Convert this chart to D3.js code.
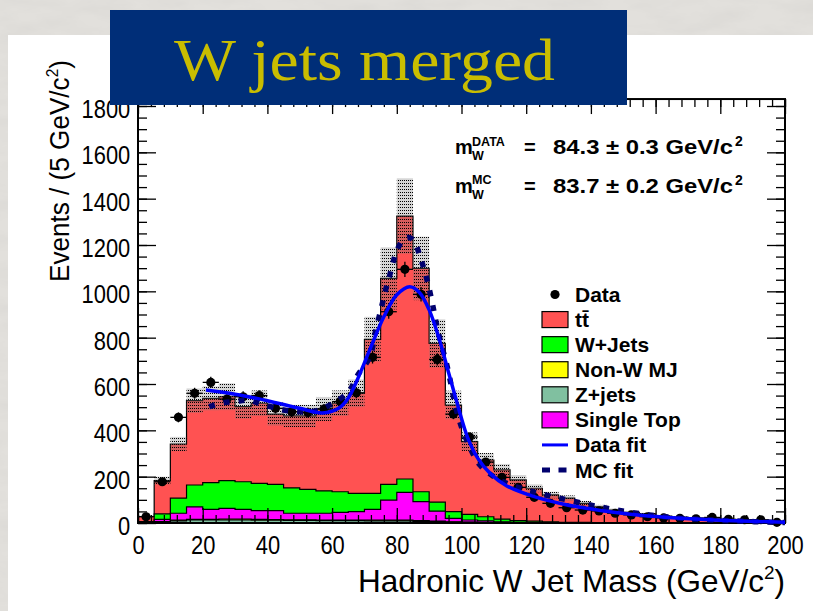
<!DOCTYPE html>
<html>
<head>
<meta charset="utf-8">
<script src="https://cdn.jsdelivr.net/npm/d3@7"></script>
<style>
  body { margin: 0; padding: 0; background: #dcdad6; }
  svg { display: block; }
</style>
</head>
<body>
<svg id="main" width="813" height="611"></svg>
<script>
// bins: 5 GeV wide, 0 - 200
const binEdges = d3.range(0, 205, 5)

// cumulative stack tops (Events / 5 GeV)
const zjetsTop  = [1,4,9,13,13,13,13,12,12,11,11,10,10,10,9,9,9,7,6,4,3,2,1,1,1,0,0,0,0,0,0,0,0,0,0,0,0,0,0,0]
const nonwTop   = [2,6,12,16,16,17,17,16,15,14,14,13,13,13,12,12,12,10,8,5,4,3,2,1,1,1,0,0,0,0,0,0,0,0,0,0,0,0,0,0]
const stopTop   = [4,16,42,70,59,63,59,53,53,42,42,42,46,49,59,99,132,92,51,20,13,9,5,3,2,2,1,1,1,1,1,0,0,0,0,0,0,0,0,0]
const wjetsTop  = [6,39,107,164,174,183,178,171,167,152,145,139,135,128,128,167,190,135,90,49,37,27,17,10,8,5,3,3,2,2,2,1,1,1,1,1,0,0,0,0]
const ttbarTop  = [28,183,341,528,538,545,502,517,470,462,462,492,517,560,793,1056,1325,1099,775,509,351,272,229,186,150,121,107,85,70,56,46,39,30,25,22,18,15,12,10,8]
const mcErr     = [3,17,31,53,52,58,52,55,50,48,48,52,55,60,97,134,163,137,104,62,40,30,26,21,17,14,12,10,8,7,6,5,4,3,3,2,2,2,1,1]

const dataCounts = [27,178,456,560,607,535,545,550,495,480,477,492,524,562,715,912,1095,987,706,470,371,263,197,154,111,85,66,56,52,42,35,27,22,20,18,24,16,14,14,3]

// fit curves: [mass, events]
const dataFit = [[21,574],[30,556],[40,528],[50,495],[57,475],[62,495],[65,540],[68,625],[72,760],[76,890],[80,985],[84,1020],[87,995],[90,920],[93,800],[96,650],[99,500],[102,365],[105,280],[109,212],[114,160],[122,116],[132,80],[143,54],[153,37],[163,25],[174,16],[184,10],[200,3]]
const mcFit = [[22,502],[26,518],[30,524],[34,530],[39,510],[45,488],[50,480],[55,484],[60,515],[65,565],[68,640],[71.7,718],[73.3,820],[75.3,933],[76.4,998],[77.7,1063],[78.7,1118],[80,1175],[82.2,1226],[84,1232],[85.6,1210],[87.2,1149],[88.5,1092],[89.6,1035],[90.6,974],[91.5,912],[92.3,855],[93.4,790],[95.5,680],[99,459],[102,345],[105.7,250],[110,200],[114,171],[122,135],[130.4,107],[139.7,78],[148,56],[158,35],[168.5,20],[184,9],[200,2]]

const legendNames = ["Data", "tt\u0304", "W+Jets", "Non-W MJ", "Z+jets", "Single Top", "Data fit", "MC fit"]
const colors = { ttbar: "#ff5252", wjets: "#00ff00", nonw: "#ffff00", zjets: "#80c0a0", stop: "#ff00ff", dataFit: "#0000ff", mcFit: "#00006e" }

const svg = d3.select("#main")
const W = 813, H = 611

// background
const defs = svg.append("defs")
const f = defs.append("filter").attr("id", "marble").attr("x", 0).attr("y", 0).attr("width", 1).attr("height", 1)
f.append("feTurbulence").attr("type", "fractalNoise").attr("baseFrequency", "0.02 0.06").attr("numOctaves", 4).attr("seed", 7)
f.append("feColorMatrix").attr("type", "matrix")
  .attr("values", "0 0 0 0 0.6  0 0 0 0 0.59  0 0 0 0 0.57  0.5 0 0 0 -0.18")
svg.append("rect").attr("width", W).attr("height", H).attr("fill", "#e2e0dc")
svg.append("rect").attr("width", W).attr("height", H).attr("filter", "url(#marble)")

// white card
svg.append("rect").attr("x", 8).attr("y", 35).attr("width", W - 8).attr("height", H - 35).attr("fill", "#ffffff")

// uncertainty pattern
const pat = defs.append("pattern").attr("id", "errpat").attr("patternUnits", "userSpaceOnUse")
  .attr("width", 2).attr("height", 3)
pat.append("rect").attr("width", 2).attr("height", 3).attr("fill", "rgba(120,120,120,0.3)")
pat.append("rect").attr("width", 1).attr("height", 1).attr("fill", "#000")

const x = d3.scaleLinear().domain([0, 200]).range([138, 785])
const y = d3.scaleLinear().domain([0, 1800]).range([523, 106])
const yTop = 1830

const g = svg.append("g")

// stacked histograms, drawn biggest first
function stepPoints(vals) {
  const pts = [[binEdges[0], 0]]
  vals.forEach((v, i) => { pts.push([binEdges[i], v]); pts.push([binEdges[i + 1], v]) })
  pts.push([binEdges[vals.length], 0])
  return pts
}
const stepLine = d3.line().x(d => x(d[0])).y(d => y(d[1]))

const layers = [
  [ttbarTop, colors.ttbar],
  [wjetsTop, colors.wjets],
  [stopTop, colors.stop],
  [nonwTop, colors.nonw],
  [zjetsTop, colors.zjets],
]
layers.forEach(([vals, col]) => {
  g.append("path")
    .attr("d", stepLine(stepPoints(vals)))
    .attr("fill", col)
    .attr("stroke", "#000")
    .attr("stroke-width", 1.2)
})

// MC uncertainty band
g.selectAll(".err").data(ttbarTop).enter().append("rect")
  .attr("class", "err")
  .attr("x", (d, i) => x(binEdges[i]))
  .attr("width", (d, i) => x(binEdges[i + 1]) - x(binEdges[i]))
  .attr("y", (d, i) => y(d + mcErr[i]))
  .attr("height", (d, i) => y(d - mcErr[i]) - y(d + mcErr[i]))
  .attr("fill", "url(#errpat)")

// frame + ticks
const frame = svg.append("g")
frame.append("rect").attr("x", x(0)).attr("y", y(yTop)).attr("width", x(200) - x(0)).attr("height", y(0) - y(yTop))
  .attr("fill", "none").attr("stroke", "#000").attr("stroke-width", 2)

const tickFont = "'Liberation Sans', Arial, sans-serif"
const xMajor = d3.range(0, 201, 20), xMinor = d3.range(0, 201, 4)
const yMajor = d3.range(0, 1801, 200), yMinor = d3.range(0, 1830, 50)

const axB = frame.append("g").attr("transform", `translate(0,${y(0)})`)
  .call(d3.axisBottom(x).tickValues(xMajor).tickSize(-15).tickPadding(8).tickFormat(d3.format("d")))
frame.append("g").attr("transform", `translate(0,${y(0)})`)
  .call(d3.axisBottom(x).tickValues(xMinor).tickSize(-8).tickFormat(""))
frame.append("g").attr("transform", `translate(0,${y(yTop)})`)
  .call(d3.axisTop(x).tickValues(xMajor).tickSize(-15).tickFormat(""))
frame.append("g").attr("transform", `translate(0,${y(yTop)})`)
  .call(d3.axisTop(x).tickValues(xMinor).tickSize(-8).tickFormat(""))
const axL = frame.append("g").attr("transform", `translate(${x(0)},0)`)
  .call(d3.axisLeft(y).tickValues(yMajor).tickSize(-18).tickPadding(9).tickFormat(d3.format("d")))
frame.append("g").attr("transform", `translate(${x(0)},0)`)
  .call(d3.axisLeft(y).tickValues(yMinor).tickSize(-9).tickFormat(""))
frame.append("g").attr("transform", `translate(${x(200)},0)`)
  .call(d3.axisRight(y).tickValues(yMajor).tickSize(-18).tickFormat(""))
frame.append("g").attr("transform", `translate(${x(200)},0)`)
  .call(d3.axisRight(y).tickValues(yMinor).tickSize(-9).tickFormat(""))
frame.selectAll(".domain").remove()
frame.selectAll(".tick line").attr("stroke", "#000").attr("stroke-width", 1.3)
// narrow, tall tick labels like the original
axB.selectAll("text").attr("font-family", tickFont).attr("font-size", 25.5).attr("fill", "#000").attr("dy", "0.92em")
  .attr("transform", "scale(0.86,1)")
axL.selectAll("text").attr("font-family", tickFont).attr("font-size", 25.5).attr("fill", "#000").attr("dy", "0.45em")
  .attr("transform", "scale(0.86,1)")

// data points
const dg = svg.append("g")
dataCounts.forEach((n, i) => {
  const cx = x(binEdges[i] + 2.5), cy = y(n), e = Math.sqrt(n)
  dg.append("line").attr("x1", x(binEdges[i])).attr("x2", x(binEdges[i + 1])).attr("y1", cy).attr("y2", cy)
    .attr("stroke", "#000").attr("stroke-width", 1.3)
  dg.append("line").attr("x1", cx).attr("x2", cx).attr("y1", y(n + e)).attr("y2", y(Math.max(0, n - e)))
    .attr("stroke", "#000").attr("stroke-width", 1.3)
  dg.append("circle").attr("cx", cx).attr("cy", cy).attr("r", 4.6).attr("fill", "#000")
})

// fits
const curve = d3.line().x(d => x(d[0])).y(d => y(d[1])).curve(d3.curveCatmullRom)
svg.append("path").attr("d", curve(mcFit)).attr("fill", "none")
  .attr("stroke", colors.mcFit).attr("stroke-width", 5.5).attr("stroke-dasharray", "6,9")
svg.append("path").attr("d", curve(dataFit)).attr("fill", "none")
  .attr("stroke", colors.dataFit).attr("stroke-width", 3.5)

// annotation
const bold = "'Liberation Sans', Arial, sans-serif"
const ann = svg.append("g").attr("font-family", bold).attr("font-weight", "bold").attr("fill", "#000")
function massLine(yb, sup, val) {
  ann.append("text").attr("x", 455).attr("y", yb).attr("font-size", 20).text("m")
  ann.append("text").attr("x", 472).attr("y", yb - 8.5).attr("font-size", 12.5).text(sup)
  ann.append("text").attr("x", 472).attr("y", yb + 6).attr("font-size", 12.5).text("W")
  ann.append("text").attr("x", 524).attr("y", yb).attr("font-size", 20).text("=")
  ann.append("text").attr("x", 553).attr("y", yb).attr("font-size", 20)
    .attr("textLength", 180).attr("lengthAdjust", "spacingAndGlyphs").text(val)
  ann.append("text").attr("x", 735).attr("y", yb - 8).attr("font-size", 14).text("2")
}
massLine(154, "DATA", "84.3 \u00b1 0.3 GeV/c")
massLine(192.5, "MC", "83.7 \u00b1 0.2 GeV/c")

// legend
const leg = svg.append("g").attr("font-family", bold).attr("font-weight", "bold").attr("font-size", 21)
const rowY = d3.scaleLinear().domain([0, 7]).range([294.5, 470])
const boxCols = [null, colors.ttbar, colors.wjets, colors.nonw, colors.zjets, colors.stop]
legendNames.forEach((name, i) => {
  const cy = rowY(i)
  if (i === 0) {
    leg.append("circle").attr("cx", 555).attr("cy", cy).attr("r", 4.6).attr("fill", "#000")
  } else if (i <= 5) {
    leg.append("rect").attr("x", 542).attr("y", cy - 8).attr("width", 26).attr("height", 16)
      .attr("fill", boxCols[i]).attr("stroke", "#000").attr("stroke-width", 1.2)
  } else if (i === 6) {
    leg.append("line").attr("x1", 542).attr("x2", 568).attr("y1", cy).attr("y2", cy)
      .attr("stroke", colors.dataFit).attr("stroke-width", 3)
  } else {
    leg.append("line").attr("x1", 542).attr("x2", 568).attr("y1", cy).attr("y2", cy)
      .attr("stroke", colors.mcFit).attr("stroke-width", 5).attr("stroke-dasharray", "8,8.5")
  }
  leg.append("text").attr("x", 575).attr("y", cy + 7.5).text(name)
})

// axis titles
const titles = svg.append("g").attr("font-family", tickFont).attr("fill", "#000")
const xt = titles.append("text").attr("x", 785).attr("y", 592).attr("text-anchor", "end").attr("font-size", 30)
  .attr("transform", "translate(785,592) scale(1.05,1.03) translate(-785,-592)")
xt.append("tspan").text("Hadronic W Jet Mass (GeV/c")
xt.append("tspan").attr("font-size", 18).attr("dy", -13).text("2")
xt.append("tspan").attr("dy", 13).text(")")
const yt = titles.append("text").attr("transform", "translate(69,60) rotate(-90)").attr("text-anchor", "end").attr("font-size", 27)
  .attr("textLength", 222).attr("lengthAdjust", "spacingAndGlyphs")
yt.append("tspan").text("Events / (5 GeV/c")
yt.append("tspan").attr("font-size", 16).attr("dy", -11).text("2")
yt.append("tspan").attr("dy", 11).text(")")

// title banner
svg.append("rect").attr("x", 110).attr("y", 10).attr("width", 517).attr("height", 95).attr("fill", "#002e78")
svg.append("text").attr("x", 174).attr("y", 80).attr("font-family", "'Liberation Serif', 'Times New Roman', serif")
  .attr("font-size", 60).attr("fill", "#c9bd00").attr("textLength", 381).attr("lengthAdjust", "spacingAndGlyphs")
  .text("W jets merged")
</script>
</body>
</html>
